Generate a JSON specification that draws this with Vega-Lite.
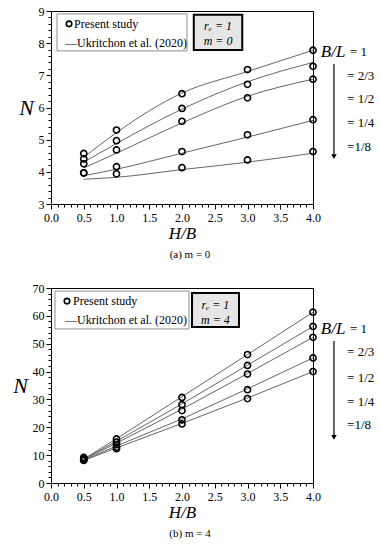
{
  "$schema": "https://vega.github.io/schema/vega-lite/v6.json",
  "background": "white",
  "padding": {"left": 12, "top": 4, "right": 0, "bottom": 0},
  "spacing": 20,
  "config": {
    "view": {"stroke": "black", "strokeWidth": 1},
    "font": "Liberation Serif",
    "axis": {
      "grid": false,
      "domainColor": "black",
      "tickColor": "black",
      "labelFont": "Liberation Serif",
      "labelFontSize": 12,
      "labelColor": "black",
      "titleFont": "Liberation Serif",
      "titleFontStyle": "italic",
      "titleFontWeight": "normal",
      "titleColor": "black",
      "labelOverlap": false,
      "labelFlush": false
    },
    "title": {"font": "Liberation Serif", "fontSize": 11, "fontWeight": "normal", "color": "black"}
  },
  "datasets": {
    "studyA": [
      {"BL": "1", "HB": 0.5, "N": 4.57}, {"BL": "1", "HB": 1, "N": 5.3}, {"BL": "1", "HB": 2, "N": 6.43}, {"BL": "1", "HB": 3, "N": 7.18}, {"BL": "1", "HB": 4, "N": 7.78},
      {"BL": "2/3", "HB": 0.5, "N": 4.4}, {"BL": "2/3", "HB": 1, "N": 4.97}, {"BL": "2/3", "HB": 2, "N": 5.97}, {"BL": "2/3", "HB": 3, "N": 6.72}, {"BL": "2/3", "HB": 4, "N": 7.28},
      {"BL": "1/2", "HB": 0.5, "N": 4.25}, {"BL": "1/2", "HB": 1, "N": 4.68}, {"BL": "1/2", "HB": 2, "N": 5.57}, {"BL": "1/2", "HB": 3, "N": 6.3}, {"BL": "1/2", "HB": 4, "N": 6.88},
      {"BL": "1/4", "HB": 0.5, "N": 3.97}, {"BL": "1/4", "HB": 1, "N": 4.16}, {"BL": "1/4", "HB": 2, "N": 4.63}, {"BL": "1/4", "HB": 3, "N": 5.15}, {"BL": "1/4", "HB": 4, "N": 5.62},
      {"BL": "1/8", "HB": 0.5, "N": 3.96}, {"BL": "1/8", "HB": 1, "N": 3.94}, {"BL": "1/8", "HB": 2, "N": 4.13}, {"BL": "1/8", "HB": 3, "N": 4.37}, {"BL": "1/8", "HB": 4, "N": 4.63}
    ],
    "ukrA": [
      {"BL": "1", "HB": 0.5, "N": 4.45}, {"BL": "1", "HB": 1, "N": 5.22}, {"BL": "1", "HB": 2, "N": 6.45}, {"BL": "1", "HB": 3, "N": 7.12}, {"BL": "1", "HB": 4, "N": 7.78},
      {"BL": "2/3", "HB": 0.5, "N": 4.3}, {"BL": "2/3", "HB": 1, "N": 4.88}, {"BL": "2/3", "HB": 2, "N": 5.95}, {"BL": "2/3", "HB": 3, "N": 6.8}, {"BL": "2/3", "HB": 4, "N": 7.4},
      {"BL": "1/2", "HB": 0.5, "N": 4.12}, {"BL": "1/2", "HB": 1, "N": 4.58}, {"BL": "1/2", "HB": 2, "N": 5.52}, {"BL": "1/2", "HB": 3, "N": 6.35}, {"BL": "1/2", "HB": 4, "N": 6.88},
      {"BL": "1/4", "HB": 0.5, "N": 3.88}, {"BL": "1/4", "HB": 1, "N": 4.08}, {"BL": "1/4", "HB": 2, "N": 4.58}, {"BL": "1/4", "HB": 3, "N": 5.08}, {"BL": "1/4", "HB": 4, "N": 5.6},
      {"BL": "1/8", "HB": 0.5, "N": 3.77}, {"BL": "1/8", "HB": 1, "N": 3.83}, {"BL": "1/8", "HB": 2, "N": 4.07}, {"BL": "1/8", "HB": 3, "N": 4.3}, {"BL": "1/8", "HB": 4, "N": 4.58}
    ],
    "studyB": [
      {"BL": "1", "HB": 0.5, "N": 9.2}, {"BL": "1", "HB": 1, "N": 15.8}, {"BL": "1", "HB": 2, "N": 30.7}, {"BL": "1", "HB": 3, "N": 46.1}, {"BL": "1", "HB": 4, "N": 61.3},
      {"BL": "2/3", "HB": 0.5, "N": 8.9}, {"BL": "2/3", "HB": 1, "N": 14.7}, {"BL": "2/3", "HB": 2, "N": 28.1}, {"BL": "2/3", "HB": 3, "N": 42.2}, {"BL": "2/3", "HB": 4, "N": 56.2},
      {"BL": "1/2", "HB": 0.5, "N": 8.6}, {"BL": "1/2", "HB": 1, "N": 13.8}, {"BL": "1/2", "HB": 2, "N": 26.0}, {"BL": "1/2", "HB": 3, "N": 39.1}, {"BL": "1/2", "HB": 4, "N": 52.3},
      {"BL": "1/4", "HB": 0.5, "N": 8.3}, {"BL": "1/4", "HB": 1, "N": 12.9}, {"BL": "1/4", "HB": 2, "N": 22.7}, {"BL": "1/4", "HB": 3, "N": 33.5}, {"BL": "1/4", "HB": 4, "N": 44.9},
      {"BL": "1/8", "HB": 0.5, "N": 8.1}, {"BL": "1/8", "HB": 1, "N": 12.3}, {"BL": "1/8", "HB": 2, "N": 21.2}, {"BL": "1/8", "HB": 3, "N": 30.3}, {"BL": "1/8", "HB": 4, "N": 40.0}
    ],
    "ukrB": [
      {"BL": "1", "HB": 0.5, "N": 8.6}, {"BL": "1", "HB": 1, "N": 15.9}, {"BL": "1", "HB": 2, "N": 31.0}, {"BL": "1", "HB": 3, "N": 46.1}, {"BL": "1", "HB": 4, "N": 61.3},
      {"BL": "2/3", "HB": 0.5, "N": 8.5}, {"BL": "2/3", "HB": 1, "N": 15.0}, {"BL": "2/3", "HB": 2, "N": 28.4}, {"BL": "2/3", "HB": 3, "N": 42.3}, {"BL": "2/3", "HB": 4, "N": 56.2},
      {"BL": "1/2", "HB": 0.5, "N": 8.4}, {"BL": "1/2", "HB": 1, "N": 14.3}, {"BL": "1/2", "HB": 2, "N": 26.5}, {"BL": "1/2", "HB": 3, "N": 39.3}, {"BL": "1/2", "HB": 4, "N": 52.3},
      {"BL": "1/4", "HB": 0.5, "N": 8.2}, {"BL": "1/4", "HB": 1, "N": 13.3}, {"BL": "1/4", "HB": 2, "N": 23.0}, {"BL": "1/4", "HB": 3, "N": 33.8}, {"BL": "1/4", "HB": 4, "N": 44.9},
      {"BL": "1/8", "HB": 0.5, "N": 8.1}, {"BL": "1/8", "HB": 1, "N": 12.6}, {"BL": "1/8", "HB": 2, "N": 21.4}, {"BL": "1/8", "HB": 3, "N": 30.5}, {"BL": "1/8", "HB": 4, "N": 40.0}
    ]
  },
  "vconcat": [
    {
      "width": 262,
      "height": 193,
      "title": {"text": "(a) m = 0", "orient": "bottom", "frame": "group", "offset": 8, "dx": 8},
      "encoding": {
        "x": {
          "field": "HB", "type": "quantitative",
          "scale": {"domain": [0, 4], "nice": false, "zero": false},
          "axis": {
            "title": "H/B", "titleFontSize": 17, "titlePadding": 2, "labelPadding": 3,
            "values": [0,0.1,0.2,0.3,0.4,0.5,0.6,0.7,0.8,0.9,1,1.1,1.2,1.3,1.4,1.5,1.6,1.7,1.8,1.9,2,2.1,2.2,2.3,2.4,2.5,2.6,2.7,2.8,2.9,3,3.1,3.2,3.3,3.4,3.5,3.6,3.7,3.8,3.9,4],
            "labelExpr": "abs(datum.value*2-round(datum.value*2))<0.001 ? format(datum.value,'.1f') : ''",
            "tickSize": {"condition": {"test": "abs(datum.value*2-round(datum.value*2))<0.001", "value": 5}, "value": 3}
          }
        },
        "y": {
          "field": "N", "type": "quantitative",
          "scale": {"domain": [3, 9], "nice": false, "zero": false},
          "axis": {
            "title": "N", "titleFontSize": 22, "titleAngle": 0, "titlePadding": 12, "titleBaseline": "middle",
            "values": [3,3.2,3.4,3.6,3.8,4,4.2,4.4,4.6,4.8,5,5.2,5.4,5.6,5.8,6,6.2,6.4,6.6,6.8,7,7.2,7.4,7.6,7.8,8,8.2,8.4,8.6,8.8,9],
            "labelExpr": "abs(datum.value-round(datum.value))<0.001 ? format(datum.value,'d') : ''",
            "tickSize": {"condition": {"test": "abs(datum.value-round(datum.value))<0.001", "value": 5}, "value": 3}
          }
        }
      },
      "layer": [
        {
          "data": {"values": [{"HB": 0.092, "HB2": 2.076, "N": 8.91, "N2": 7.76}]},
          "mark": {"type": "rect", "fill": "white", "stroke": "#8c8c8c", "strokeWidth": 1},
          "encoding": {"x2": {"field": "HB2"}, "y2": {"field": "N2"}}
        },
        {
          "data": {"values": [{"HB": 2.18, "HB2": 2.92, "N": 8.88, "N2": 7.79}]},
          "mark": {"type": "rect", "fill": "#e6e6e6", "stroke": "black", "strokeWidth": 2},
          "encoding": {"x2": {"field": "HB2"}, "y2": {"field": "N2"}}
        },
        {
          "data": {"name": "ukrA"},
          "mark": {"type": "line", "color": "#666666", "strokeWidth": 1, "interpolate": "monotone"},
          "encoding": {"detail": {"field": "BL"}}
        },
        {
          "data": {"name": "studyA"},
          "mark": {"type": "point", "shape": "circle", "filled": false, "stroke": "black", "strokeWidth": 1.6, "size": 38, "opacity": 1}
        },
        {
          "data": {"values": [{"HB": 0.275, "N": 8.6}]},
          "mark": {"type": "point", "shape": "circle", "filled": false, "stroke": "black", "strokeWidth": 1.6, "size": 30, "opacity": 1}
        },
        {
          "data": {"values": [{"HB": 0.351, "N": 8.6, "label": "Present study"}, {"HB": 0.214, "N": 8.01, "label": "—Ukritchon et al. (2020)"}]},
          "mark": {"type": "text", "align": "left", "baseline": "middle", "fontSize": 12, "color": "black"},
          "encoding": {"text": {"field": "label"}}
        },
        {
          "data": {"values": [{"HB": 2.55, "N": 8.53, "label": "rₑ = 1"}, {"HB": 2.55, "N": 8.07, "label": "m = 0"}]},
          "mark": {"type": "text", "align": "center", "baseline": "middle", "fontSize": 12, "fontStyle": "italic", "color": "black"},
          "encoding": {"text": {"field": "label"}}
        },
        {
          "data": {"values": [{"HB": 4.12, "N": 7.73, "label": "B/L"}]},
          "mark": {"type": "text", "align": "left", "baseline": "middle", "fontSize": 17, "fontStyle": "italic", "color": "black"},
          "encoding": {"text": {"field": "label"}}
        },
        {
          "data": {"values": [
            {"HB": 4.565, "N": 7.73, "label": "= 1"},
            {"HB": 4.52, "N": 6.98, "label": "= 2/3"},
            {"HB": 4.52, "N": 6.26, "label": "= 1/2"},
            {"HB": 4.52, "N": 5.52, "label": "= 1/4"},
            {"HB": 4.52, "N": 4.77, "label": "=1/8"}
          ]},
          "mark": {"type": "text", "align": "left", "baseline": "middle", "fontSize": 13, "color": "black"},
          "encoding": {"text": {"field": "label"}}
        },
        {
          "data": {"values": [{"HB": 4.32, "N": 7.35, "N2": 4.5}]},
          "mark": {"type": "rule", "color": "black", "strokeWidth": 1.2},
          "encoding": {"y2": {"field": "N2"}}
        },
        {
          "data": {"values": [{"HB": 4.32, "N": 4.47}]},
          "mark": {"type": "point", "shape": "triangle-down", "filled": true, "color": "black", "size": 30, "opacity": 1}
        }
      ]
    },
    {
      "width": 262,
      "height": 195,
      "title": {"text": "(b) m = 4", "orient": "bottom", "frame": "group", "offset": 8, "dx": 8},
      "encoding": {
        "x": {
          "field": "HB", "type": "quantitative",
          "scale": {"domain": [0, 4], "nice": false, "zero": false},
          "axis": {
            "title": "H/B", "titleFontSize": 17, "titlePadding": 2, "labelPadding": 3,
            "values": [0,0.1,0.2,0.3,0.4,0.5,0.6,0.7,0.8,0.9,1,1.1,1.2,1.3,1.4,1.5,1.6,1.7,1.8,1.9,2,2.1,2.2,2.3,2.4,2.5,2.6,2.7,2.8,2.9,3,3.1,3.2,3.3,3.4,3.5,3.6,3.7,3.8,3.9,4],
            "labelExpr": "abs(datum.value*2-round(datum.value*2))<0.001 ? format(datum.value,'.1f') : ''",
            "tickSize": {"condition": {"test": "abs(datum.value*2-round(datum.value*2))<0.001", "value": 5}, "value": 3}
          }
        },
        "y": {
          "field": "N", "type": "quantitative",
          "scale": {"domain": [0, 70], "nice": false},
          "axis": {
            "title": "N", "titleFontSize": 22, "titleAngle": 0, "titlePadding": 12, "titleBaseline": "middle",
            "values": [0,2,4,6,8,10,12,14,16,18,20,22,24,26,28,30,32,34,36,38,40,42,44,46,48,50,52,54,56,58,60,62,64,66,68,70],
            "labelExpr": "datum.value % 10 === 0 ? format(datum.value,'d') : ''",
            "tickSize": {"condition": {"test": "datum.value % 10 === 0", "value": 5}, "value": 3}
          }
        }
      },
      "layer": [
        {
          "data": {"values": [{"HB": 0.061, "HB2": 2.107, "N": 68.9, "N2": 55.3}]},
          "mark": {"type": "rect", "fill": "white", "stroke": "#8c8c8c", "strokeWidth": 1},
          "encoding": {"x2": {"field": "HB2"}, "y2": {"field": "N2"}}
        },
        {
          "data": {"values": [{"HB": 2.153, "HB2": 2.87, "N": 68.2, "N2": 56.0}]},
          "mark": {"type": "rect", "fill": "#e6e6e6", "stroke": "black", "strokeWidth": 2},
          "encoding": {"x2": {"field": "HB2"}, "y2": {"field": "N2"}}
        },
        {
          "data": {"name": "ukrB"},
          "mark": {"type": "line", "color": "#666666", "strokeWidth": 1},
          "encoding": {"detail": {"field": "BL"}}
        },
        {
          "data": {"name": "studyB"},
          "mark": {"type": "point", "shape": "circle", "filled": false, "stroke": "black", "strokeWidth": 1.6, "size": 38, "opacity": 1}
        },
        {
          "data": {"values": [{"HB": 0.244, "N": 65.3}]},
          "mark": {"type": "point", "shape": "circle", "filled": false, "stroke": "black", "strokeWidth": 1.6, "size": 30, "opacity": 1}
        },
        {
          "data": {"values": [{"HB": 0.336, "N": 65.3, "label": "Present study"}, {"HB": 0.214, "N": 58.5, "label": "—Ukritchon et al. (2020)"}]},
          "mark": {"type": "text", "align": "left", "baseline": "middle", "fontSize": 12, "color": "black"},
          "encoding": {"text": {"field": "label"}}
        },
        {
          "data": {"values": [{"HB": 2.51, "N": 63.9, "label": "rₑ = 1"}, {"HB": 2.51, "N": 58.5, "label": "m = 4"}]},
          "mark": {"type": "text", "align": "center", "baseline": "middle", "fontSize": 12, "fontStyle": "italic", "color": "black"},
          "encoding": {"text": {"field": "label"}}
        },
        {
          "data": {"values": [{"HB": 4.12, "N": 55.3, "label": "B/L"}]},
          "mark": {"type": "text", "align": "left", "baseline": "middle", "fontSize": 17, "fontStyle": "italic", "color": "black"},
          "encoding": {"text": {"field": "label"}}
        },
        {
          "data": {"values": [
            {"HB": 4.565, "N": 55.3, "label": "= 1"},
            {"HB": 4.52, "N": 47.0, "label": "= 2/3"},
            {"HB": 4.52, "N": 37.7, "label": "= 1/2"},
            {"HB": 4.52, "N": 29.1, "label": "= 1/4"},
            {"HB": 4.52, "N": 20.8, "label": "=1/8"}
          ]},
          "mark": {"type": "text", "align": "left", "baseline": "middle", "fontSize": 13, "color": "black"},
          "encoding": {"text": {"field": "label"}}
        },
        {
          "data": {"values": [{"HB": 4.32, "N": 51.0, "N2": 16.6}]},
          "mark": {"type": "rule", "color": "black", "strokeWidth": 1.2},
          "encoding": {"y2": {"field": "N2"}}
        },
        {
          "data": {"values": [{"HB": 4.32, "N": 16.4}]},
          "mark": {"type": "point", "shape": "triangle-down", "filled": true, "color": "black", "size": 30, "opacity": 1}
        }
      ]
    }
  ]
}
